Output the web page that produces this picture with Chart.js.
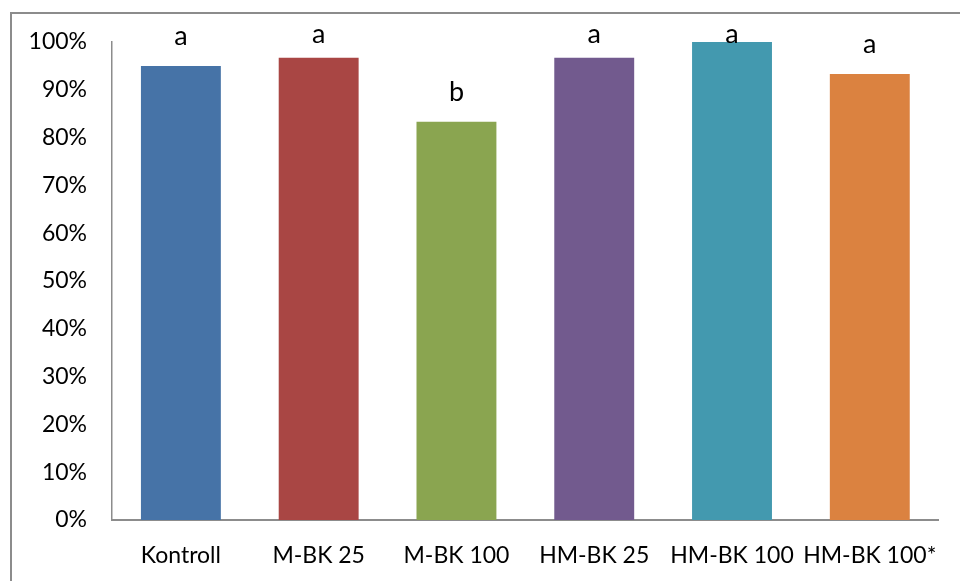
<!DOCTYPE html>
<html>
<head>
<meta charset="utf-8">
<script src="https://cdn.jsdelivr.net/npm/chart.js@4/dist/chart.umd.min.js"></script>
<style>
  html, body { margin: 0; padding: 0; background: #fff; }
  #wrap { position: relative; width: 960px; height: 581px; }
</style>
</head>
<body>
<div id="wrap"><canvas id="c" width="960" height="581"></canvas></div>
<script>
// Survival share per treatment group
const categories = ['Kontroll', 'M-BK 25', 'M-BK 100', 'HM-BK 25', 'HM-BK 100', 'HM-BK 100*'];
const values = [95, 96.7, 83.3, 96.7, 100, 93.3];
const groupLetters = ['a', 'a', 'b', 'a', 'a', 'a'];
const barColors = ['#4673A7', '#A94644', '#8AA550', '#725A8E', '#4399AF', '#DB8240'];
const yTicks = [0, 10, 20, 30, 40, 50, 60, 70, 80, 90, 100];

const FONT = 'Lato, "Open Sans", sans-serif';

// Outer frame of the chart object
const framePlugin = {
  id: 'frame',
  beforeDraw(chart) {
    const ctx = chart.ctx;
    ctx.save();
    ctx.fillStyle = '#fff';
    ctx.fillRect(0, 0, chart.width, chart.height);
    ctx.strokeStyle = '#8c8c8c';
    ctx.lineWidth = 2;
    ctx.strokeRect(11, 13, 2000, 2000);
    ctx.restore();
  }
};

// Significance letters above each bar
const letterPlugin = {
  id: 'letters',
  afterDatasetsDraw(chart) {
    const ctx = chart.ctx;
    const meta = chart.getDatasetMeta(0);
    ctx.save();
    ctx.font = '27px ' + FONT;
    ctx.fillStyle = '#000';
    ctx.textAlign = 'center';
    ctx.textBaseline = 'alphabetic';
    meta.data.forEach((bar, i) => {
      const y = Math.max(bar.y - 21, chart.chartArea.top + 1);
      ctx.fillText(groupLetters[i], bar.x, y);
    });
    ctx.restore();
  }
};

new Chart(document.getElementById('c'), {
  type: 'bar',
  data: {
    labels: categories,
    datasets: [{
      data: values,
      backgroundColor: barColors,
      borderWidth: 0,
      barPercentage: 0.58,
      categoryPercentage: 1.0
    }]
  },
  options: {
    responsive: false,
    animation: false,
    devicePixelRatio: 1,
    layout: { padding: { top: 42, right: 19, left: 0, bottom: 0 } },
    plugins: { legend: { display: false }, tooltip: { enabled: false } },
    scales: {
      x: {
        grid: { display: false, drawTicks: false },
        border: { display: true, color: '#8c8c8c', width: 2 },
        ticks: { color: '#000', font: { family: FONT, size: 23 }, padding: 22, maxRotation: 0, autoSkip: false },
        afterFit(scale) { scale.height = 61; }
      },
      y: {
        min: 0,
        max: 100,
        afterBuildTicks(scale) { scale.ticks = yTicks.map(v => ({ value: v })); },
        grid: { display: false, drawTicks: false },
        border: { display: true, color: '#8c8c8c', width: 1.5 },
        ticks: {
          color: '#000',
          font: { family: FONT, size: 23 },
          padding: 25,
          callback: v => v + '%'
        },
        afterFit(scale) { scale.width = 112; }
      }
    }
  },
  plugins: [framePlugin, letterPlugin]
});
</script>
</body>
</html>
